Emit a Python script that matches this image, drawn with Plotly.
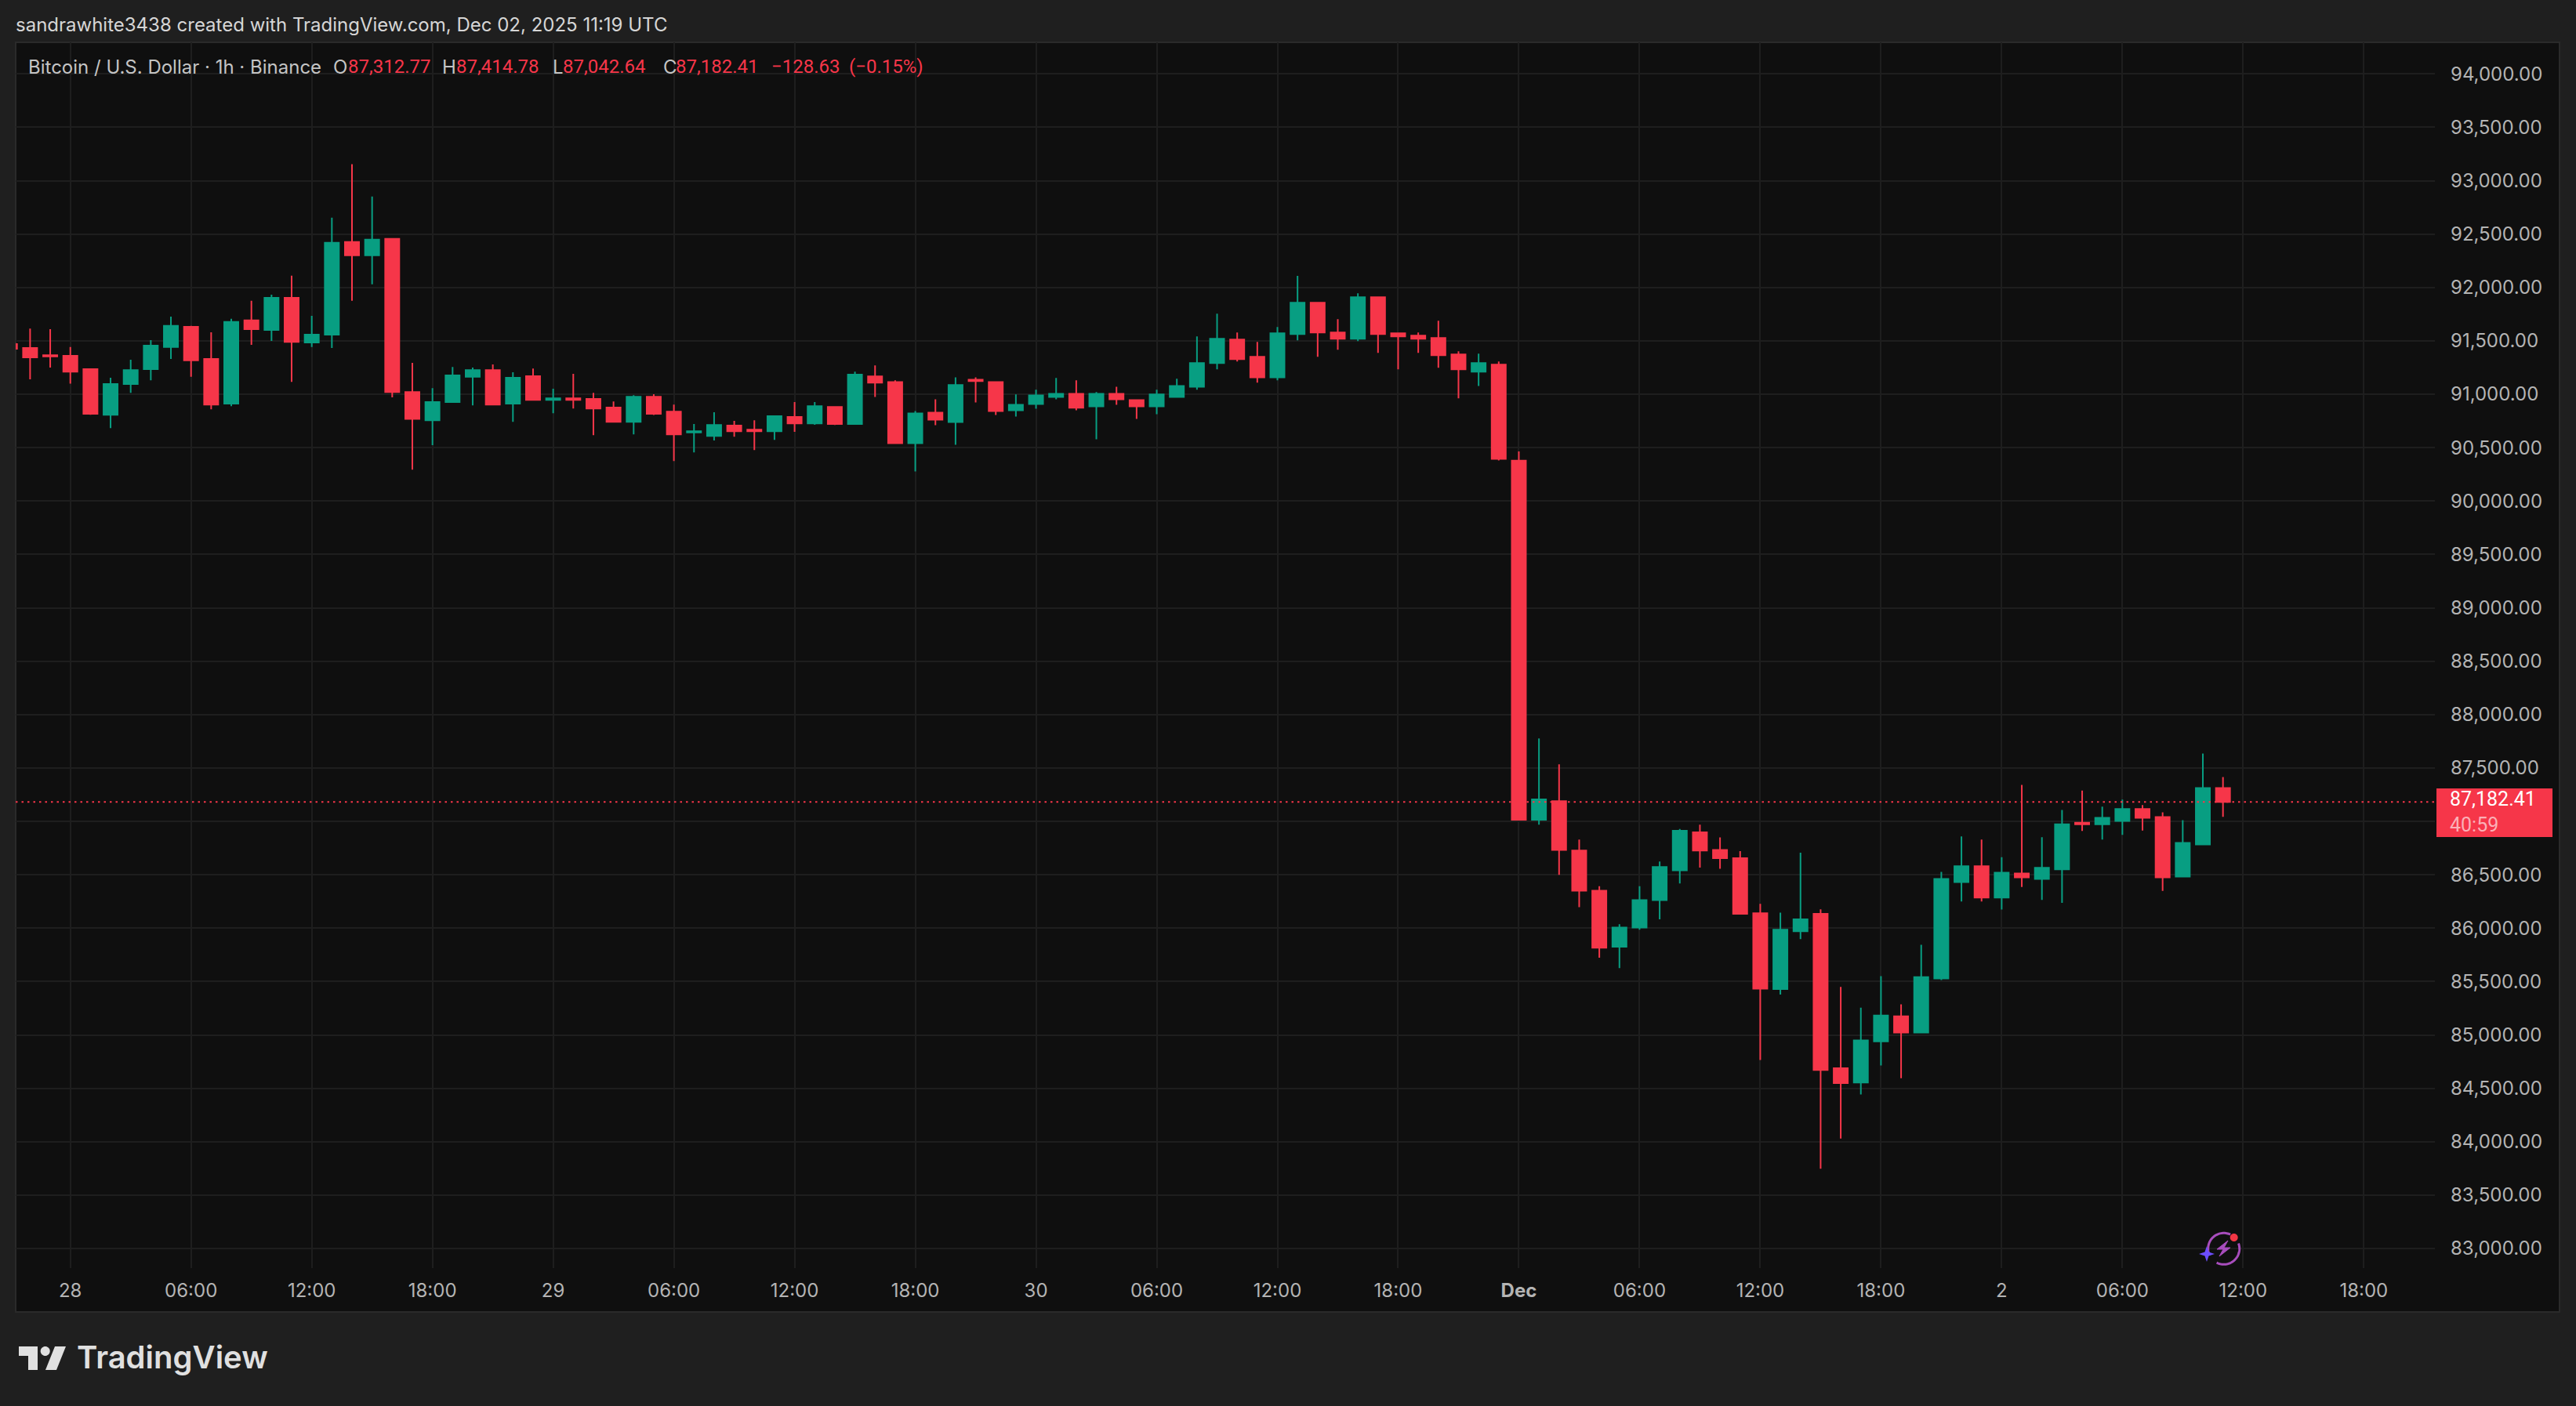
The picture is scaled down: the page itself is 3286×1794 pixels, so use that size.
import math
import pandas as pd
import plotly.graph_objects as go

# ---------- data (1h candles, starting 27 Nov 21:00) ----------
first_bar = "2025-11-27 21:00"
opens = [91471,91433,91366,91360,91235,90808,91096,91235,91442,91631,91331,90913,91692,91602,91904,91485,91558,92427,92302,92456,
         91020,90756,90927,91163,91227,90913,91169,90948,90962,90956,90875,90741,90977,90837,90642,90610,90706,90669,90654,90788,
         90727,90881,90721,91167,91115,90542,90828,90740,91137,91115,90850,90909,90975,91005,90887,91005,90946,90887,90975,91071,
         91292,91512,91350,91159,91564,91858,91578,91520,91909,91571,91549,91527,91372,91211,91277,90378,87015,87190,86727,86351,
         85826,86006,86263,86542,86897,86732,86655,86140,85429,85970,86135,84688,84554,84940,85174,85022,85528,86431,86580,86286,
         86513,86461,86550,86988,86973,87003,87115,87040,86483,86784,87312.77]
highs = [91480,91616,91610,91442,91235,91154,91323,91506,91727,91640,91581,91706,91875,91933,92110,91735,92654,93154,92852,92460,
         91294,91058,91256,91250,91279,91206,91241,91052,91192,91014,90933,90991,91000,90904,90721,90831,90750,90756,90802,90927,
         90927,90885,91212,91270,91130,90843,90953,91159,91159,91120,90998,91042,91152,91130,91020,91071,90950,91042,91145,91542,
         91755,91578,91490,91630,92108,91865,91703,91946,91915,91578,91578,91689,91402,91380,91306,90465,87777,87535,86830,86392,
         86037,86392,86624,86928,86969,86850,86722,86227,86145,86706,86176,85450,85256,85550,85286,85844,86527,86858,86829,86665,
         87341,86851,87107,87289,87137,87204,87152,87085,87011,87635,87414.78]
lows = [91420,91140,91250,91099,90808,90683,91014,91131,91331,91163,90860,90889,91462,91500,91116,91442,91433,91875,92029,90971,
        90294,90523,90920,90895,90900,90741,90945,90823,90866,90616,90735,90625,90805,90375,90456,90567,90602,90477,90573,90648,
        90715,90712,90715,90975,90540,90277,90711,90527,90924,90806,90792,90865,90953,90850,90578,90902,90770,90814,90968,91042,
        91233,91306,91108,91130,91505,91350,91417,91498,91387,91233,91387,91248,90961,91078,90380,87015,86969,86500,86197,85723,
        85625,85985,86083,86418,86567,86557,86130,84765,85378,85898,83746,84029,84442,84714,84595,85015,85513,86249,86249,86174,
        86386,86264,86237,86910,86829,86873,86914,86349,86475,86780,87042.64]
closes = [91427,91346,91355,91212,90817,91096,91227,91456,91640,91317,90904,91677,91610,91904,91491,91558,92419,92302,92448,91020,
          90770,90927,91177,91227,90904,91154,90948,90962,90948,90866,90741,90977,90817,90625,90654,90712,90654,90654,90794,90727,
          90889,90721,91183,91108,90542,90821,90762,91086,91123,90843,90902,90990,91005,90873,91005,90953,90887,90998,91078,91292,
          91520,91328,91159,91571,91858,91578,91520,91909,91564,91542,91520,91365,91233,91292,90395,87015,87206,86732,86351,85816,
          86006,86263,86572,86912,86727,86655,86135,85434,85985,86083,84672,84549,84948,85182,85022,85542,86461,86580,86286,86520,
          86475,86565,86973,86973,87033,87115,87033,86475,86799,87312,87182.41]
tick_labels = ["28","06:00","12:00","18:00","29","06:00","12:00","18:00","30","06:00","12:00","18:00",
               "<b>Dec</b>","06:00","12:00","18:00","2","06:00","12:00","18:00"]
first_tick = "2025-11-28 00:00"
price_ticks = list(range(83000, 94500, 500))
hidden_price_label = 87000  # covered by the last-price tag in the reference
price_labels = ["" if p == hidden_price_label else f"{p:,.2f}" for p in price_ticks]
last_price = 87182.41

# ---------- styles ----------
GREEN, RED = "#089e82", "#f63649"
OUTER, PANE, BORDER, GRID = "#1f1f1f", "#0f0f0f", "#2a2a2a", "#1e1e1e"
TEXT, FONT, DIGITS = "#b4b4b4", "Inter", "Roboto"
W, H = 3286, 1794
L, R, T, B = 20, 3106, 54, 1618

def X(px): return (px - L) / (R - L)
def Y(py): return 1 - (py - T) / (B - T)
def poly(points, close=True):
    body = " L".join(f"{X(a):.6f},{Y(b):.6f}" for a, b in points)
    return "M" + body + (" Z" if close else "")
def paper_shape(**kw):
    return dict(xref="paper", yref="paper", **kw)
def note(px, py, text, size=24, color=TEXT, family=FONT):
    return dict(xref="paper", yref="paper", x=X(px), y=Y(py), text=text, showarrow=False, xanchor="left",
                yanchor="middle", align="left", font=dict(family=family, size=size, color=color))

times = pd.date_range(first_bar, periods=len(opens), freq="h")
tick_times = pd.date_range(first_tick, periods=len(tick_labels), freq="6h")

fig = go.Figure(go.Candlestick(
    x=times, open=opens, high=highs, low=lows, close=closes, whiskerwidth=0,
    increasing=dict(line=dict(color=GREEN, width=2), fillcolor=GREEN),
    decreasing=dict(line=dict(color=RED, width=2), fillcolor=RED),
))

def arc(cx, cy, r, a0, a1, n=40):
    return [(cx + r*math.cos(math.radians(a0 + (a1-a0)*i/n)), cy + r*math.sin(math.radians(a0 + (a1-a0)*i/n))) for i in range(n+1)]

ICON, STAR, DOT = "#a84dbd", "#6c4dff", "#f23645"
cx, cy, cr = 2836.7, 1593.3, 20
star_x, star_y, s = 2815, 1600, 10
star = [(star_x, star_y-s), (star_x+2.5, star_y-2.5), (star_x+s, star_y), (star_x+2.5, star_y+2.5),
        (star_x, star_y+s), (star_x-2.5, star_y+2.5), (star_x-s, star_y), (star_x-2.5, star_y-2.5)]
bolt = [(2842, 1583), (2828, 1594), (2836, 1594), (2831, 1603), (2845, 1592), (2837, 1592)]
shapes = [
    paper_shape(type="rect", x0=X(20), x1=X(3265), y0=Y(54), y1=Y(1674), fillcolor=PANE, line=dict(color=BORDER, width=2), layer="below"),
    dict(type="line", xref="paper", yref="y", x0=0, x1=1, y0=last_price, y1=last_price, line=dict(color=RED, width=2, dash="2.5px,5px"), layer="above"),
    paper_shape(type="rect", x0=X(3108), x1=X(3256), y0=Y(1006), y1=Y(1068), fillcolor=RED, line=dict(width=0), layer="above"),
    # TradingView mark
    paper_shape(type="path", path=poly([(24,1718),(48,1718),(48,1748),(36,1748),(36,1730),(24,1730)]), fillcolor="#e0e0e0", line=dict(width=0)),
    paper_shape(type="path", path=poly(arc(57.7,1724,6,0,360)), fillcolor="#e0e0e0", line=dict(width=0)),
    paper_shape(type="path", path=poly([(70,1718),(84,1718),(72,1748),(58,1748)]), fillcolor="#e0e0e0", line=dict(width=0)),
    # badge in the pane
    paper_shape(type="path", path=poly(arc(cx,cy,cr,-65,-205),close=False), line=dict(color=ICON,width=3)),
    paper_shape(type="path", path=poly(arc(cx,cy,cr,-20,117),close=False), line=dict(color=ICON,width=3)),
    paper_shape(type="path", path=poly(bolt), fillcolor=ICON, line=dict(color=ICON,width=1)),
    paper_shape(type="path", path=poly(star), fillcolor=STAR, line=dict(width=0)),
    paper_shape(type="path", path=poly(arc(2849.7,1579,5,0,360)), fillcolor=DOT, line=dict(width=0)),
]

LEG = "#c4c4c4"
annotations = [
    note(18, 31, "sandrawhite3438 created with TradingView.com, Dec 02, 2025 11:19 UTC", size=24, color="#d6d6d6"),
    note(34, 85, "Bitcoin / U.S. Dollar · 1h · Binance", color=LEG),
    note(423, 85, "O", color=LEG), note(442, 85, "87,312.77", color=RED, family=DIGITS),
    note(562, 85, "H", color=LEG), note(580, 85, "87,414.78", color=RED, family=DIGITS),
    note(703, 85, "L", color=LEG), note(716, 85, "87,042.64", color=RED, family=DIGITS),
    note(844, 85, "C", color=LEG), note(860, 85, "87,182.41", color=RED, family=DIGITS),
    note(982, 85, "−128.63", color=RED, family=DIGITS), note(1081, 85, "(−0.15%)", color=RED, family=DIGITS),
    note(3123, 1036, '87,182.41<br><span style="color:#fbb0b7">40:59</span>', size=25, color="#ffffff", family=DIGITS),
    dict(xref="paper", yref="paper", x=X(96), y=Y(1731), text="TradingView", showarrow=False, xanchor="left", yanchor="middle",
         font=dict(family="Inter", size=40, color="#e0e0e0", weight=600)),
]

fig.update_layout(
    width=W, height=H, autosize=False,
    margin=dict(l=L, r=W-R, t=T, b=H-B, pad=0),
    paper_bgcolor=OUTER, plot_bgcolor=PANE, showlegend=False, hovermode=False,
    boxgap=0.30, boxgroupgap=0,
    shapes=shapes, annotations=annotations,
    font=dict(family=FONT, size=24, color=TEXT),
    xaxis=dict(type="date", range=["2025-11-27 21:17", "2025-12-02 21:32"], rangeslider=dict(visible=False),
               tickmode="array", tickvals=list(tick_times), ticktext=tick_labels, ticks="", tickangle=0,
               showgrid=True, gridcolor=GRID, gridwidth=2, zeroline=False, showline=False, ticklabelstandoff=12,
               tickfont=dict(family=FONT, size=24, color=TEXT)),
    yaxis=dict(side="right", range=[82816.5, 94296], tickmode="array", tickvals=price_ticks, ticktext=price_labels, ticks="",
               showgrid=True, gridcolor=GRID, gridwidth=2, zeroline=False, showline=False, ticklabelstandoff=19,
               tickfont=dict(family=FONT, size=24, color=TEXT)),
)

fig.write_html("out.html", config=dict(displayModeBar=False), post_script="document.body.style.margin='0';document.body.style.background='#1f1f1f';")
